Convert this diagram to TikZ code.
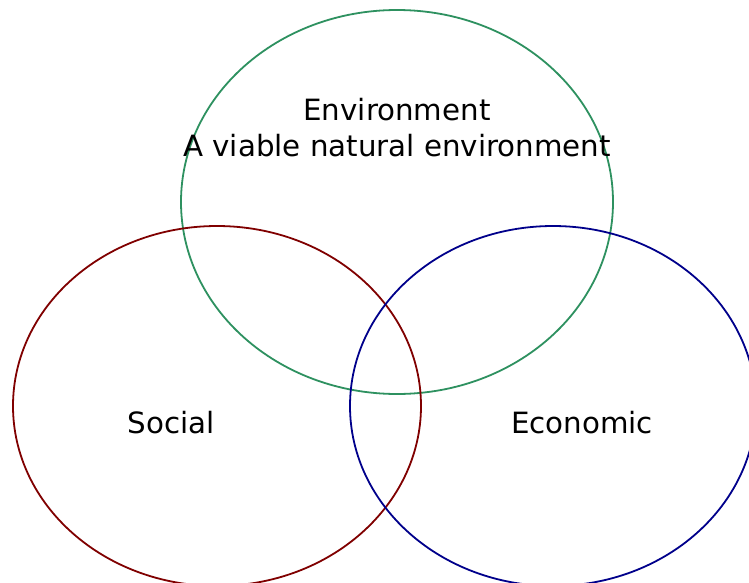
\documentclass[tikz,border=0pt]{standalone}
\usepackage{fontspec}
\setmainfont{DejaVu Sans}
\usetikzlibrary{shapes.geometric}
\definecolor{envgreen}{RGB}{46,145,96}
\definecolor{socred}{RGB}{128,0,0}
\definecolor{ecoblue}{RGB}{0,0,139}
\tikzset{
  circ/.style={ellipse, draw, line width=1.8pt, inner sep=0pt, fill=none},
  lbl/.style={font=\fontsize{29.3}{36}\selectfont, anchor=base, inner sep=0pt, align=center}
}
\begin{document}
\begin{tikzpicture}[x=1pt,y=-1pt]
\useasboundingbox (0,0) rectangle (749,583);
\fill[white] (0,0) rectangle (749,583);
\node[circ, draw=envgreen, minimum width=432pt, minimum height=384pt] (env) at (397,202) {};
\node[circ, draw=socred, minimum width=408pt, minimum height=360pt] (soc) at (217,406) {};
\node[circ, draw=ecoblue, minimum width=406pt, minimum height=360pt] (eco) at (553,406) {};
\node[lbl] (envt) at (397,121) {Environment};
\node[lbl] (envs) at (397,157) {A viable natural environment};
\node[lbl] (soct) at (171,433) {Social};
\node[lbl] (ecot) at (582,433) {Economic};
\end{tikzpicture}
\end{document}
